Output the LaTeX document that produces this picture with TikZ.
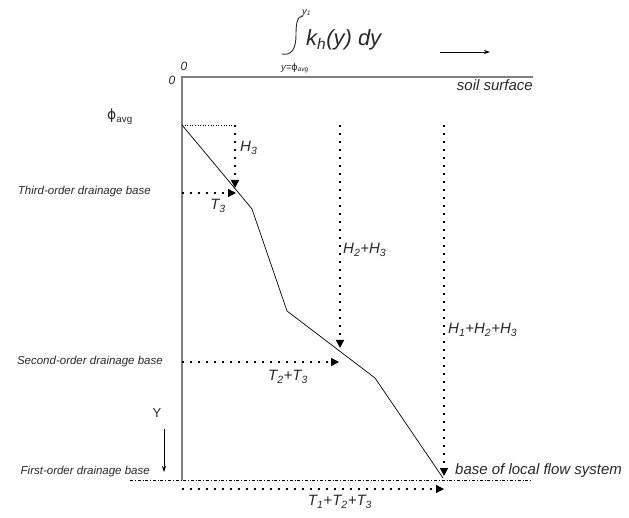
\documentclass[tikz,border=0pt]{standalone}
\usepackage{fontspec}
\setmainfont{Liberation Sans}
\newfontfamily\phifont{DejaVu Sans}
\usetikzlibrary{positioning, arrows.meta}
\definecolor{axisgray}{RGB}{128,128,128}
\definecolor{inkgray}{RGB}{40,40,40}
\newcommand{\phisym}{{\phifont\upshape ϕ}}
\tikzset{
    lbl/.style={font=\itshape\fontsize{15}{18}\selectfont, text=inkgray, inner sep=0pt},
    baselbl/.style={font=\itshape\fontsize{11.5}{14}\selectfont, text=inkgray, inner sep=0pt},
    smalllbl/.style={font=\itshape\fontsize{9.5}{11}\selectfont, text=inkgray, inner sep=0pt},
    zerolbl/.style={font=\itshape\fontsize{12}{14}\selectfont, text=inkgray, inner sep=0pt},
    axisline/.style={draw=axisgray, line width=1.4pt},
    profile/.style={draw=black, line width=0.7pt},
    avgline/.style={draw=black, line width=0.6pt, dotted},
    baseline/.style={draw=black, line width=0.6pt, dash dot},
    dotarr/.style={-{Triangle[length=8pt,width=8pt]}, line width=1.6pt, dash pattern=on 2pt off 6pt, color=black},
    thinarr/.style={-{Stealth[length=6pt,width=4pt]}, line width=0.7pt, color=black}
}
\begin{document}
\begin{tikzpicture}[x=1pt, y=-1pt]
        \useasboundingbox (0,0) rectangle (629,518);
        % axes and profile
        \coordinate (origin) at (182,77);
        \coordinate (surfend) at (533,77);
        \coordinate (axisend) at (182,480);
        \coordinate (phi) at (182,125);
        \coordinate (kink3) at (252,209);
        \coordinate (kink2) at (287,311);
        \coordinate (kink1) at (375,378);
        \coordinate (base) at (443,478);
        \coordinate (dashstart) at (130,480);
        \coordinate (dashend) at (532,480);
        \draw[axisline] (axisend) -- (origin) -- (surfend);
        \draw[baseline] (dashstart) -- (dashend);
        \draw[profile] (phi) -- (kink3) -- (kink2) -- (kink1) -- (base);

        % arrow ends
        \coordinate (h3top) at (235,125);
        \coordinate (h3end) at (235,188);
        \coordinate (h2top) at (340,125);
        \coordinate (h2end) at (340,348);
        \coordinate (h1top) at (444,125);
        \coordinate (h1end) at (444,476);
        \coordinate (t3start) at (182,193);
        \coordinate (t3end) at (236,193);
        \coordinate (t2start) at (182,362);
        \coordinate (t2end) at (339,362);
        \coordinate (t1start) at (182,489);
        \coordinate (t1end) at (444,489);
        \draw[avgline] (phi) -- (h3top);
        \draw[dotarr] (h3top) -- (h3end);
        \draw[dotarr] (h2top) -- (h2end);
        \draw[dotarr] (h1top) -- (h1end);
        \draw[dotarr] (t3start) -- (t3end);
        \draw[dotarr] (t2start) -- (t2end);
        \draw[dotarr] (t1start) -- (t1end);

        \node[lbl, anchor=west] (h3lbl) at (240,148) {H\textsubscript{3}};
        \node[lbl] (t3lbl) at (218,206) {T\textsubscript{3}};
        \node[lbl, anchor=west] (h2lbl) at (343,250) {H\textsubscript{2}+H\textsubscript{3}};
        \node[lbl] (t2lbl) at (288,377) {T\textsubscript{2}+T\textsubscript{3}};
        \node[lbl, anchor=west] (h1lbl) at (448,330) {H\textsubscript{1}+H\textsubscript{2}+H\textsubscript{3}};
        \node[lbl] (t1lbl) at (340,502) {T\textsubscript{1}+T\textsubscript{2}+T\textsubscript{3}};

        % drainage bases
        \node[baselbl, anchor=east] (third) at (151,192) {Third-order drainage base};
        \node[baselbl, anchor=east] (second) at (163,362) {Second-order drainage base};
        \node[baselbl, anchor=east] (first) at (150,472) {First-order drainage base};
        \node[lbl, anchor=west] (localbase) at (455,471) {base of local flow system};
        \node[lbl, anchor=east] (soil) at (533,85) {soil surface};
        \node[font=\upshape\fontsize{14}{16}\selectfont, text=inkgray, inner sep=0pt, anchor=base west] (philbl) at (107,120) {\phisym\textsubscript{avg}};
        \node[zerolbl] (zerotop) at (184,66) {0};
        \node[zerolbl] (zeroleft) at (172,80) {0};

        % depth axis
        \node[font=\fontsize{13}{15}\selectfont, text=inkgray, inner sep=0pt] (ylbl) at (157,413) {Y};
        \coordinate (ystart) at (164,429);
        \coordinate (yend) at (164,472);
        \draw[thinarr] (ystart) -- (yend);

        % integral
        \draw[line width=0.9pt, inkgray] (303,16) .. controls (297,16) and (296,24) .. (296,35)
          .. controls (296,48) and (292,56) .. (282,54);
        \node[smalllbl, anchor=west] (upper) at (302,13) {y\textsubscript{1}};
        \node[smalllbl] (lower) at (295,68) {y=\phisym\textsubscript{\itshape avg}};
        \node[font=\itshape\fontsize{22}{26}\selectfont, text=inkgray, inner sep=0pt, anchor=west] (kint) at (306,40) {k\textsubscript{h}(y) dy};
        \coordinate (dirstart) at (440,52);
        \coordinate (dirend) at (490,52);
        \draw[thinarr] (dirstart) -- (dirend);
\end{tikzpicture}
\end{document}
